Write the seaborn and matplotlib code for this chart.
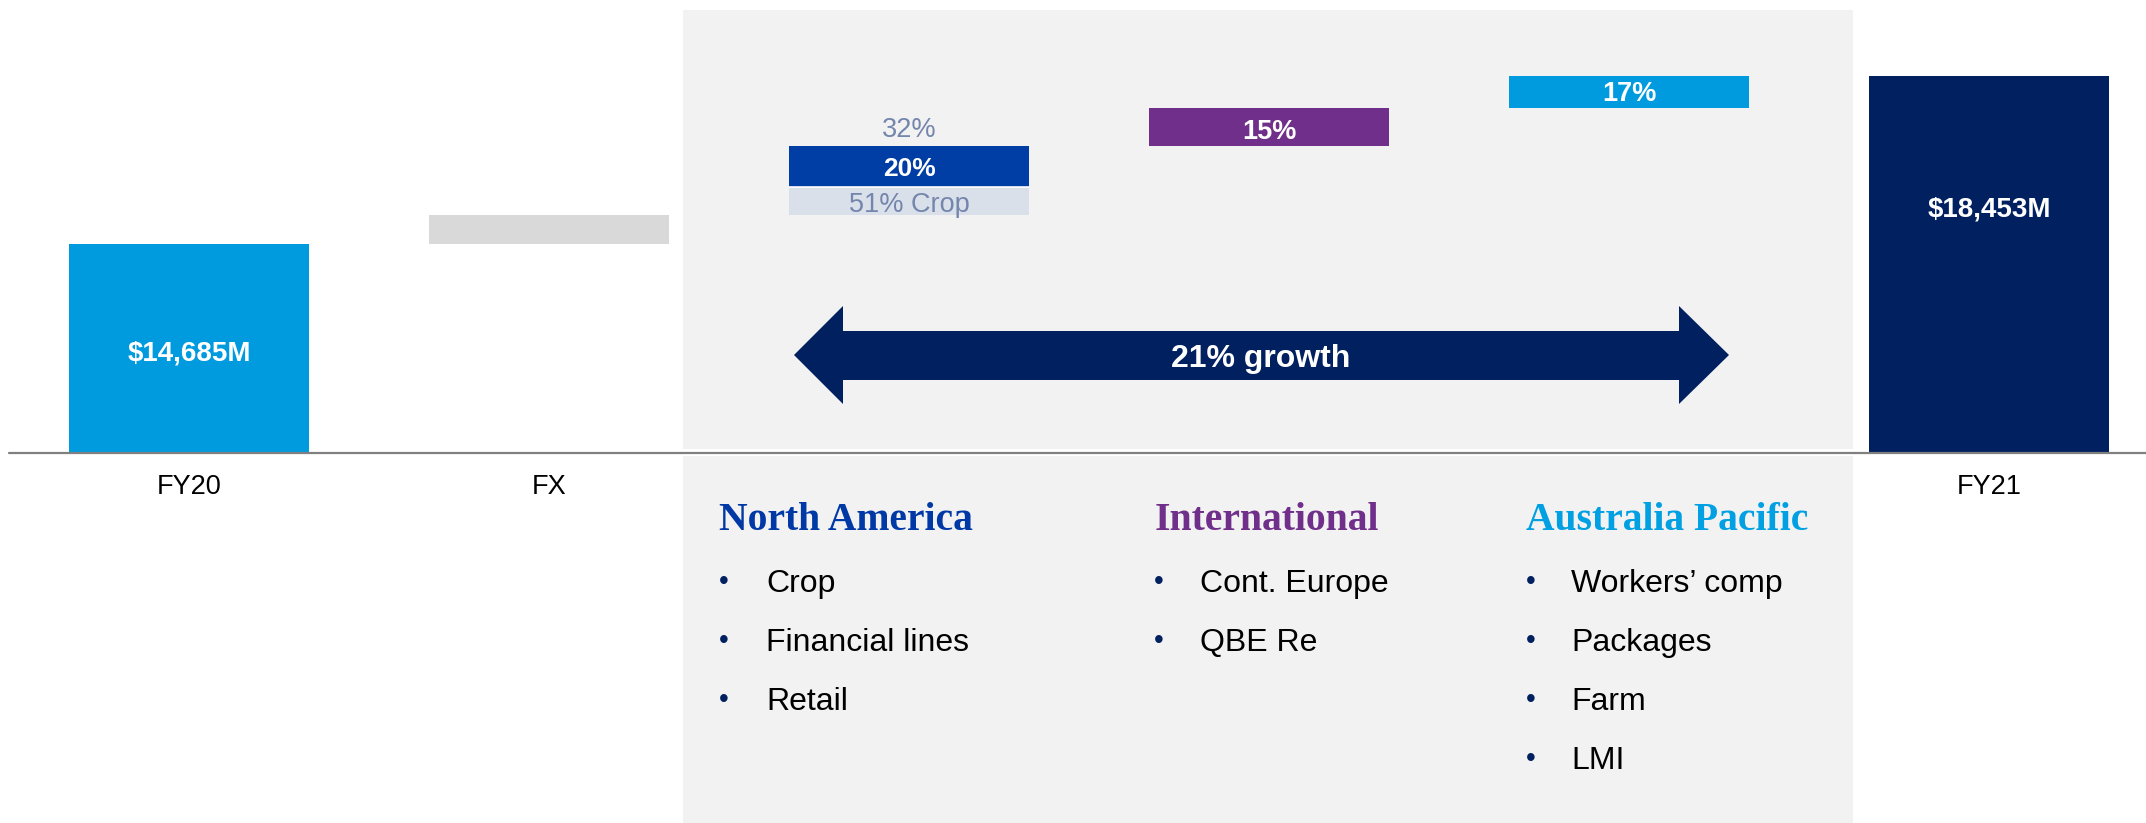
import matplotlib
matplotlib.use("Agg")
import matplotlib.pyplot as plt
import matplotlib.transforms as mtransforms
from matplotlib.patches import Rectangle, Polygon
import seaborn as sns
import pandas as pd

# ---------------- data ----------------
categories = ["FY20", "FX", "North America", "International", "Australia Pacific", "FY21"]
axis_floor = 10000          # value axis starts here ($M)
fy20_gwp = 14685
fx_change = 650
na_crop = 610
na_other = 940
intl_change = 850
ap_change = 718
fy21_gwp = 18453

axis_labels = ["FY20", "FX", "", "", "", "FY21"]
fy20_label = "$14,685M"
fy21_label = "$18,453M"
na_share_label = "32%"
na_growth_label = "20%"
na_crop_label = "51% Crop"
intl_label = "15%"
ap_label = "17%"
growth_label = "21% growth"
headings = ["North America", "International", "Australia Pacific"]
bullets = [["Crop", "Financial lines", "Retail"],
           ["Cont. Europe", "QBE Re"],
           ["Workers\u2019 comp", "Packages", "Farm", "LMI"]]

# ---------------- styles ----------------
bar_colors = ["#009BDF", "#D9D9D9", "#D9E0EA", "#702F8A", "#009BDF", "#00205F"]
na_dark = "#003DA5"
navy = "#00205F"
heading_colors = ["#0039A6", "#702F8A", "#00A0E3"]
panel_color = "#F2F2F2"
bar_width = 0.667

W, H = 2146, 823
sns.set_theme(style="white")
plt.rcParams["font.family"] = ["Liberation Sans", "DejaVu Sans"]

fig = plt.figure(figsize=(W / 100, H / 100), dpi=100)
ax = fig.add_axes([0, 0, 1, 1])

# waterfall layer 1
heights = [fy20_gwp - axis_floor, fx_change, na_crop, intl_change, ap_change, fy21_gwp - axis_floor]
bottoms = [axis_floor,
           fy20_gwp,
           fy20_gwp + fx_change,
           fy20_gwp + fx_change + na_crop + na_other,
           fy20_gwp + fx_change + na_crop + na_other + intl_change,
           axis_floor]
df = pd.DataFrame({"cat": categories, "height": heights, "bottom": bottoms})
sns.barplot(data=df, x="cat", y="height", order=categories, bottom=df["bottom"].to_numpy(),
            width=bar_width, errorbar=None, color="#cccccc", saturation=1, linewidth=0,
            ax=ax, zorder=2)
bars = list(ax.patches)
for p, c in zip(bars, bar_colors):
    p.set_facecolor(c)
    p.set_edgecolor("none")

# layer 2: North America remainder
na_split = fy20_gwp + fx_change + na_crop
df2 = pd.DataFrame({"cat": ["North America"], "height": [na_other]})
sns.barplot(data=df2, x="cat", y="height", order=categories, bottom=na_split,
            width=bar_width, errorbar=None, color=na_dark, saturation=1, linewidth=0,
            ax=ax, zorder=2)
# thin white separator between the two North America segments
ax.hlines(na_split, 2 - bar_width / 2, 2 + bar_width / 2, color="white", lw=1.2, zorder=2.5)

# axis scaling: index 0 at px 189, spacing 360 px; value 10000 at px 452.5, 0.044586 px per $M
k = 0.044586
ax.set_xlim(-189 / 360, (W - 189) / 360)
ax.set_ylim(axis_floor - (H - 452.5) / k, axis_floor + 452.5 / k)
ax.axis("off")

ax.axhline(axis_floor, xmin=9 / W, xmax=1, color="#808080", lw=1.6, zorder=3)

def fx_(px):
    return px / W

def fy_(py):
    return 1 - py / H

# grey panel (split at baseline)
ax.add_patch(Rectangle((fx_(683), fy_(449)), (1853 - 683) / W, (449 - 10) / H,
                       transform=ax.transAxes, facecolor=panel_color, lw=0, zorder=0))
ax.add_patch(Rectangle((fx_(683), 0), (1853 - 683) / W, (H - 456) / H,
                       transform=ax.transAxes, facecolor=panel_color, lw=0, zorder=0))

# double arrow
pts = [(794, 355), (843, 306), (843, 331), (1679, 331), (1679, 306), (1729, 355),
       (1679, 404), (1679, 380), (843, 380), (843, 404)]
ax.add_patch(Polygon([(fx_(x), fy_(y)) for x, y in pts], closed=True, transform=ax.transAxes,
                     facecolor=navy, edgecolor="none", zorder=3))
ax.text(fx_(1261), fy_(366.7), growth_label, transform=ax.transAxes, ha="center", va="baseline",
        fontsize=23, fontweight="bold", color="white", zorder=4)

trans = mtransforms.blended_transform_factory(ax.transData, ax.transAxes)

def blabel(i, py, s, color="white", weight="bold", size=19.5):
    ax.text(i, fy_(py), s, transform=trans, ha="center", va="baseline",
            fontsize=size, fontweight=weight, color=color, zorder=5)

blabel(0, 360, fy20_label, size=20)
blabel(5, 216.7, fy21_label, size=20)
blabel(2, 137, na_share_label, color="#7586AD", weight="normal")
blabel(2, 176, na_growth_label, size=19)
blabel(2, 212, na_crop_label, color="#7586AD", weight="normal")
blabel(3, 139, intl_label)
blabel(4, 100.7, ap_label)

for i, lab in enumerate(axis_labels):
    if lab:
        blabel(i, 494.5, lab, color="black", weight="normal", size=19.5)

# headings and bullets
head_x = [719, 1155, 1526]
bullet_x = [724, 1159, 1531]
text_x = [766, 1200, 1571]
row_base = [592, 651, 710, 769]
for j in range(3):
    ax.text(fx_(head_x[j]), fy_(530), headings[j], transform=ax.transAxes, ha="left",
            va="baseline", fontsize=28.5, fontweight="bold", color=heading_colors[j],
            family=["Liberation Serif", "DejaVu Serif"])
    for r, item in enumerate(bullets[j]):
        ax.text(fx_(bullet_x[j]), fy_(row_base[r] - 3), "\u2022", transform=ax.transAxes,
                ha="center", va="baseline", fontsize=20, color=navy)
        ax.text(fx_(text_x[j]), fy_(row_base[r]), item, transform=ax.transAxes, ha="left",
                va="baseline", fontsize=23, color="black")

fig.savefig("out.png", dpi=100, facecolor="white")
